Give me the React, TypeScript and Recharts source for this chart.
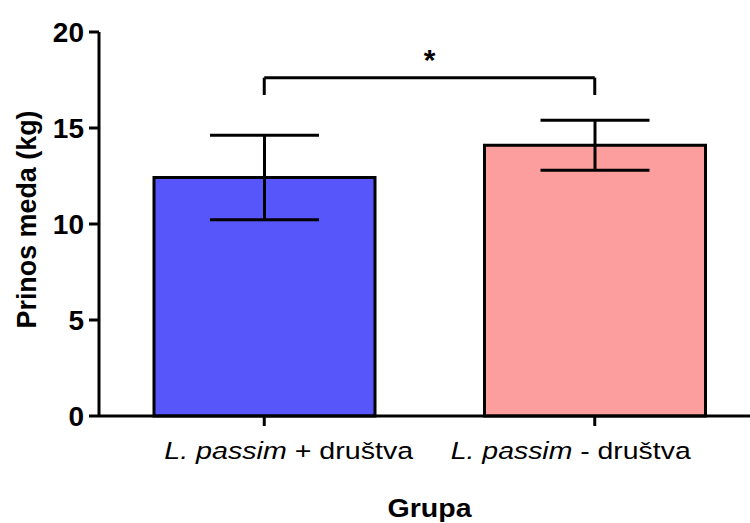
import React from 'react';
import {
  ComposedChart,
  Bar,
  Cell,
  ErrorBar,
  XAxis,
  YAxis,
  ReferenceLine,
} from 'recharts';

// Honey yield per group (mean ± SD)
const groups = ['L. passim + društva', 'L. passim - društva'];
const yieldMeans = [12.42, 14.1];
const yieldSD = [2.2, 1.3];
const barColors = ['#5656FA', '#FD9E9E'];
const yTicks = [0, 5, 10, 15, 20];

// Significance bracket between the two groups
const bracketTop = 17.62;
const bracketFoot = 16.72;

const data = groups.map((g, i) => ({ group: g, mean: yieldMeans[i], sd: yieldSD[i] }));

const FONT = '"Liberation Sans", Arial, Helvetica, sans-serif';
const ITALIC_PART = 'L. passim';

const GroupTick = (props: any) => {
  const { x, y, payload, index } = props;
  const label: string = payload.value;
  const rest = label.startsWith(ITALIC_PART) ? label.slice(ITALIC_PART.length) : label;
  const shift = index === 0 ? 24.5 : -24;
  const len = index === 0 ? 249 : 240;
  return (
    <text
      x={x + shift}
      y={y + 31}
      textAnchor="middle"
      fontFamily={FONT}
      fontSize={24.5}
      fill="#000"
      textLength={len}
      lengthAdjust="spacingAndGlyphs"
    >
      <tspan fontStyle="italic">{ITALIC_PART}</tspan>
      <tspan>{rest}</tspan>
    </text>
  );
};

const YTitle = () => (
  <text
    x={0}
    y={0}
    transform="translate(35.5, 219.5) rotate(-90)"
    textAnchor="middle"
    fontFamily={FONT}
    fontSize={27}
    fontWeight="bold"
    fill="#000"
    textLength={218}
    lengthAdjust="spacingAndGlyphs"
  >
    Prinos meda (kg)
  </text>
);

const XTitle = () => (
  <text
    x={429.5}
    y={517}
    textAnchor="middle"
    fontFamily={FONT}
    fontSize={25}
    fontWeight="bold"
    fill="#000"
    textLength={84}
    lengthAdjust="spacingAndGlyphs"
  >
    Grupa
  </text>
);

export default function App() {
  return (
    <div
      style={{
        position: 'absolute',
        left: 0,
        top: 0,
        width: 750,
        height: 523,
        overflow: 'hidden',
        background: '#fff',
      }}
    >
      <ComposedChart
        width={770}
        height={523}
        data={data}
        margin={{ top: 32, right: 10, bottom: 0, left: 0 }}
      >
        <XAxis
          dataKey="group"
          type="category"
          height={107}
          tickSize={10}
          axisLine={{ stroke: '#000', strokeWidth: 3 }}
          tickLine={{ stroke: '#000', strokeWidth: 3 }}
          tick={<GroupTick />}
          interval={0}
        />
        <YAxis
          type="number"
          domain={[0, 20]}
          ticks={yTicks}
          width={99}
          tickSize={10}
          tickMargin={5}
          axisLine={{ stroke: '#000', strokeWidth: 3 }}
          tickLine={{ stroke: '#000', strokeWidth: 3 }}
          tick={{ fill: '#000', fontSize: 28, fontWeight: 'bold', fontFamily: FONT }}
        />
        <Bar
          dataKey="mean"
          barSize={221}
          stroke="#000"
          strokeWidth={3}
          isAnimationActive={false}
        >
          {data.map((d, i) => (
            <Cell key={d.group} fill={barColors[i]} />
          ))}
          <ErrorBar
            dataKey="sd"
            direction="y"
            width={54.5}
            stroke="#000"
            strokeWidth={3}
            isAnimationActive={false}
          />
        </Bar>
        <ReferenceLine
          segment={[
            { x: groups[0], y: bracketTop },
            { x: groups[1], y: bracketTop },
          ]}
          stroke="#000"
          strokeWidth={3}
          label={{
            value: '*',
            position: 'top',
            offset: 8,
            fill: '#000',
            fontSize: 30,
            fontWeight: 'bold',
            fontFamily: FONT,
          }}
        />
        <ReferenceLine
          segment={[
            { x: groups[0], y: bracketTop },
            { x: groups[0], y: bracketFoot },
          ]}
          stroke="#000"
          strokeWidth={3}
        />
        <ReferenceLine
          segment={[
            { x: groups[1], y: bracketTop },
            { x: groups[1], y: bracketFoot },
          ]}
          stroke="#000"
          strokeWidth={3}
        />
        <YTitle />
        <XTitle />
      </ComposedChart>
    </div>
  );
}
